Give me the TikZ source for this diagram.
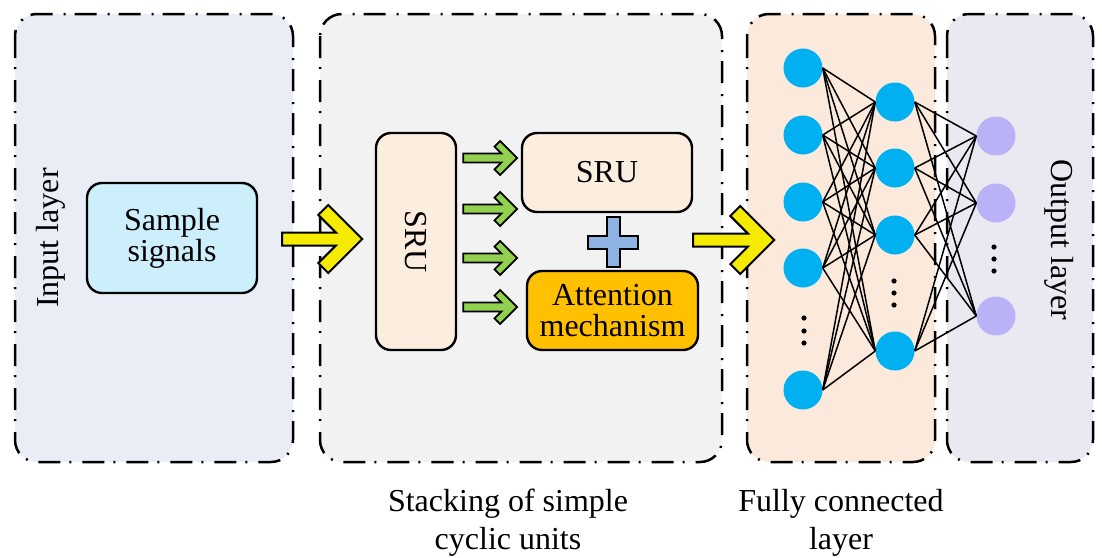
\documentclass[tikz,border=0pt]{standalone}
\usepackage{fontspec}
\setmainfont{Liberation Serif}
\usetikzlibrary{calc}

\definecolor{inputbg}{RGB}{232,237,246}
\definecolor{stackbg}{RGB}{242,242,242}
\definecolor{fcbg}{RGB}{251,233,219}
\definecolor{outbg}{RGB}{234,232,241}
\definecolor{signalfill}{RGB}{205,239,251}
\definecolor{srufill}{RGB}{251,238,223}
\definecolor{attfill}{RGB}{255,192,0}
\definecolor{plusfill}{RGB}{141,179,226}
\definecolor{arrowyellow}{RGB}{245,235,0}
\definecolor{arrowgreen}{RGB}{146,208,80}
\definecolor{neuronblue}{RGB}{0,176,240}
\definecolor{neuronpurple}{RGB}{186,178,246}

\tikzset{
  panel/.style={line width=2.5pt, dash pattern=on 22pt off 9pt on 2pt off 11pt,
    rounded corners=22pt},
  block/.style={draw=black, line width=2.4pt, rounded corners=15pt, inner sep=0pt,
    align=center, font=\fontsize{32}{31}\selectfont},
  caption/.style={align=center, inner sep=0pt, font=\fontsize{32}{38}\selectfont},
  sidetext/.style={inner sep=0pt, font=\fontsize{32}{31}\selectfont},
  neuron/.style={circle, inner sep=0pt, minimum size=39pt},
  hidden/.style={neuron, fill=neuronblue},
  outneuron/.style={neuron, fill=neuronpurple},
  link/.style={line width=1.5pt},
  dotmark/.style={fill=black},
  bigarrow/.style={draw=black, fill=arrowyellow, line width=2pt, line join=miter},
  smallarrow/.style={draw=black, fill=arrowgreen, line width=1.8pt, line join=miter},
  % block arrow: {length}{shaft half height}{head half height}{arm width}
  pics/fatarrow/.style n args={4}{code={
    \pgfmathsetmacro\arQ{#1-2*#4/sqrt(2)-#2}
    \pgfmathsetmacro\arP{#1-#3-#4/sqrt(2)}
    \pgfmathsetmacro\arB{#3-#4/sqrt(2)}
    \pgfmathsetmacro\arC{#1-#3}
    \path[pic actions] (0,#2) -- (\arQ,#2) -- (\arP,\arB) -- (\arC,#3) -- (#1,0)
      -- (\arC,-#3) -- (\arP,-\arB) -- (\arQ,-#2) -- (0,-#2) -- cycle;
  }}
}

\begin{document}
\begin{tikzpicture}[x=1pt, y=-1pt]
\useasboundingbox (0,0) rectangle (1102,557);

% layer panels
\draw[panel, fill=inputbg] (15,14) rectangle (293,462);
\draw[panel, fill=stackbg] (320,14) rectangle (722,462);
\draw[panel, fill=fcbg] (747,14) rectangle (935,462);
\draw[panel, fill=outbg] (947,14) rectangle (1093,462);

% input layer
\node[sidetext, rotate=90] (inlabel) at (51,238) {Input layer};
\node[block, fill=signalfill, minimum width=170pt, minimum height=110pt] (signals)
  at (172,238) {Sample\\signals};

% stacked SRU units
\node[block, fill=srufill, minimum width=80pt, minimum height=217pt] (sruv) at (416,241.5) {};
\node[sidetext, rotate=-90] (sruvtext) at (sruv.center) {SRU};
\node[block, fill=srufill, minimum width=170pt, minimum height=79pt] (sru) at (607,172.5) {SRU};
\node[block, fill=attfill, minimum width=171pt, minimum height=79pt] (att) at (612.5,310.5)
  {Attention\\mechanism};

% plus sign between SRU and attention
\coordinate (plus) at (613,242);
\draw[fill=plusfill, line width=2pt, shift={(plus)}]
  (-6.5,-25) -- (6.5,-25) -- (6.5,-6.5) -- (25,-6.5) -- (25,6.5) -- (6.5,6.5)
  -- (6.5,25) -- (-6.5,25) -- (-6.5,6.5) -- (-25,6.5) -- (-25,-6.5) -- (-6.5,-6.5) -- cycle;

% arrows
\coordinate (ya1) at ($(signals.east)+(24,1)$);
\coordinate (ya2) at ($(sru.east)+(0,67.5)$);
\pic[bigarrow] at (ya1) {fatarrow={80}{6.5}{34}{14}};
\pic[bigarrow] at (ya2) {fatarrow={81}{6.5}{34}{14}};
\foreach \yy [count=\i] in {158,209,258,307} {
  \coordinate (ga\i) at ($(sruv.east |- 0,\yy)+(6,0)$);
  \pic[smallarrow] at (ga\i) {fatarrow={54}{4.5}{17}{8}};
}

% fully connected network
\foreach \yy [count=\i] in {68,135,202,268,390}
  \node[hidden] (a\i) at (803,\yy) {};
\foreach \yy [count=\i] in {102,168,235,351}
  \node[hidden] (b\i) at (895,\yy) {};
\foreach \yy [count=\i] in {136,203,316}
  \node[outneuron] (c\i) at (996,\yy) {};
\foreach \i in {1,...,5}
  \foreach \j in {1,...,4}
    \draw[link] (a\i.east) -- (b\j.west);
\foreach \j in {1,...,4}
  \foreach \k in {1,...,3}
    \draw[link] (b\j.east) -- (c\k.west);

% ellipsis dots
\foreach \yy in {318,331,343} \fill[dotmark] (804,\yy) circle (2.6pt);
\foreach \yy in {281,293,305} \fill[dotmark] (894,\yy) circle (2.6pt);
\foreach \yy in {247,259,271} \fill[dotmark] (994,\yy) circle (2.6pt);

\node[sidetext, rotate=-90] (outlabel) at (1059,240) {Output layer};

% captions
\node[caption, anchor=north] (capstack) at (508,489) {Stacking of simple\\cyclic units};
\node[caption, anchor=north] (capfc) at (841,489) {Fully connected\\layer};
\end{tikzpicture}
\end{document}
